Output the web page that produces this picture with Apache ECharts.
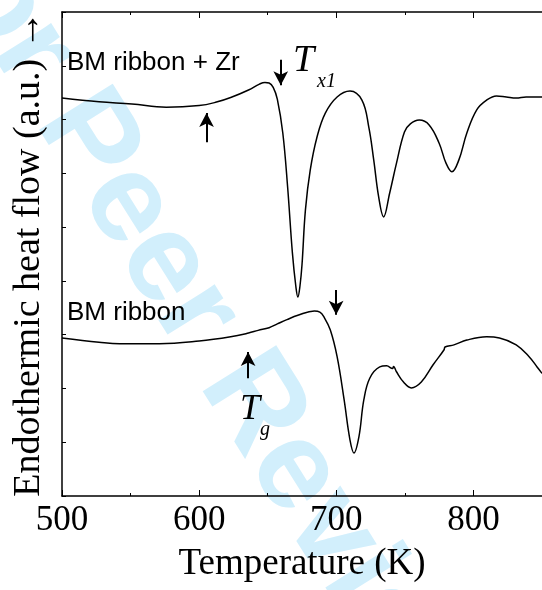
<!DOCTYPE html>
<html>
<head>
<meta charset="utf-8">
<script src="https://cdn.jsdelivr.net/npm/echarts@6/dist/echarts.min.js"></script>
<style>
html,body{margin:0;padding:0;background:#fff;}
#c{width:542px;height:590px;}
</style>
</head>
<body>
<div id="c"></div>
<script>
// ---- data ----
var xTicks = [500, 600, 700, 800];
var zrTemp = [500,527,551,576,600,612,623,636,644,648,651,654,657,661,664.5,668,670.5,672,673.5,675,677.5,681,686,692,700.6,710,718.7,723.7,727.3,730.9,734.5,738.9,743.9,749.7,754,760.5,767.7,775,780,784.3,789.4,795.2,802.4,809.6,816.8,824,831.2,838.4,846,850];
var zrFlow = [7.40,7.33,7.29,7.23,7.26,7.32,7.41,7.55,7.66,7.69,7.68,7.60,7.38,6.75,5.75,4.52,3.90,3.70,3.90,4.30,5.32,6.06,6.68,7.12,7.42,7.53,7.36,6.86,6.25,5.56,5.19,5.63,6.19,6.77,6.92,6.99,6.90,6.56,6.19,6.03,6.25,6.75,7.18,7.36,7.44,7.42,7.40,7.42,7.42,7.42];
var bmTemp = [500,527,542,571,600,623,636,643,651,657,664,672,684,688,691,695.6,700.6,705.7,710,712.9,716.5,720.1,724.4,731.7,736.7,741,741.8,743.9,749,754.7,762,770.6,778.6,779.3,785.8,795.2,809.6,819,831.2,840.6,846.4,850];
var bmFlow = [2.94,2.86,2.83,2.83,2.88,2.96,3.03,3.08,3.13,3.20,3.28,3.36,3.44,3.42,3.33,3.09,2.59,1.79,1.04,0.80,1.10,1.79,2.19,2.40,2.42,2.37,2.41,2.31,2.12,2.01,2.12,2.44,2.72,2.77,2.81,2.90,2.96,2.94,2.81,2.59,2.40,2.28];
// arrow annotations: [temperature, from, to]
var zrArrows = [[659.5, 8.11, 7.64], [605.4, 6.58, 7.12]];
var bmArrows = [[699.9, 3.83, 3.37], [635.7, 2.19, 2.68]];

function zip(a, b) { return a.map(function (v, i) { return [v, b[i]]; }); }
function arrowLines(arr) {
  return arr.map(function (a) { return [{ coord: [a[0], a[1]] }, { coord: [a[0], a[2]] }]; });
}

var chart = echarts.init(document.getElementById('c'));
var axisCommon = {
  type: 'value', min: 500, max: 850, interval: 100,
  axisLine: { show: true, lineStyle: { color: '#000', width: 1.5 } },
  axisTick: { show: true, inside: true, length: 6, lineStyle: { color: '#000', width: 1 } },
  minorTick: { show: true, splitNumber: 2, length: 3, lineStyle: { color: '#000', width: 1 } },
  splitLine: { show: false }
};
var serif = '"Liberation Serif", "Times New Roman", serif';
var sans = '"Liberation Sans", Arial, sans-serif';
var markLineStyle = {
  silent: true, animation: false,
  symbol: ['none', 'arrow'], symbolSize: [11, 14],
  lineStyle: { color: '#000', width: 2, type: 'solid' },
  label: { show: false }
};
chart.setOption({
  animation: false,
  backgroundColor: '#fff',
  grid: { left: 62, top: 12, width: 485, bottom: 94 },
  xAxis: [
    Object.assign({}, axisCommon, {
      position: 'bottom',
      name: 'Temperature (K)', nameLocation: 'middle', nameGap: 50,
      nameTextStyle: { fontFamily: serif, fontSize: 37, color: '#000' },
      axisLabel: {
        show: true, margin: 7, fontFamily: serif, fontSize: 35, color: '#000',
        showMaxLabel: false,
        formatter: function (v) { return xTicks.indexOf(v) >= 0 ? String(v) : ''; }
      }
    }),
    Object.assign({}, axisCommon, { position: 'top', axisLabel: { show: false } })
  ],
  yAxis: {
    type: 'value', min: 0, max: 9, interval: 1,
    name: 'Endothermic heat flow (a.u.) \u2192', nameLocation: 'middle', nameGap: 14,
    nameTextStyle: { fontFamily: serif, fontSize: 38, color: '#000' },
    axisLine: { show: true, lineStyle: { color: '#000', width: 1.5 } },
    axisTick: { show: true, inside: true, length: 4, lineStyle: { color: '#000', width: 1 } },
    axisLabel: { show: false },
    splitLine: { show: false }
  },
  series: [
    {
      name: 'BM ribbon + Zr', type: 'line', data: zip(zrTemp, zrFlow),
      showSymbol: false, smooth: 0.4, z: 5,
      lineStyle: { color: '#000', width: 1.5 },
      markLine: Object.assign({ data: arrowLines(zrArrows) }, markLineStyle)
    },
    {
      name: 'BM ribbon', type: 'line', data: zip(bmTemp, bmFlow),
      showSymbol: false, smooth: 0.4, z: 5,
      lineStyle: { color: '#000', width: 1.5 },
      markLine: Object.assign({ data: arrowLines(bmArrows) }, markLineStyle)
    }
  ],
  graphic: [
    {
      type: 'text', x: 198, y: 318, rotation: -58 * Math.PI / 180, z: -10, silent: true,
      style: { text: 'For Peer Review', fill: '#d2effc', font: 'bold 126px ' + sans, align: 'center', verticalAlign: 'middle' }
    },
    { type: 'text', left: 67, top: 50, z: 20, style: { text: 'BM ribbon + Zr', fill: '#000', font: '26px ' + sans } },
    { type: 'text', left: 67, top: 300, z: 20, style: { text: 'BM ribbon', fill: '#000', font: '26px ' + sans } },
    { type: 'text', x: 293, y: 61, z: 20, style: { text: 'T', fill: '#000', font: 'italic 38px ' + serif, align: 'left', verticalAlign: 'middle' } },
    { type: 'text', x: 317, y: 82, z: 20, style: { text: 'x1', fill: '#000', font: 'italic 20px ' + serif, align: 'left', verticalAlign: 'middle' } },
    { type: 'text', x: 240, y: 410, z: 20, style: { text: 'T', fill: '#000', font: 'italic 36px ' + serif, align: 'left', verticalAlign: 'middle' } },
    { type: 'text', x: 260, y: 430, z: 20, style: { text: 'g', fill: '#000', font: 'italic 20px ' + serif, align: 'left', verticalAlign: 'middle' } }
  ]
});
</script>
</body>
</html>
